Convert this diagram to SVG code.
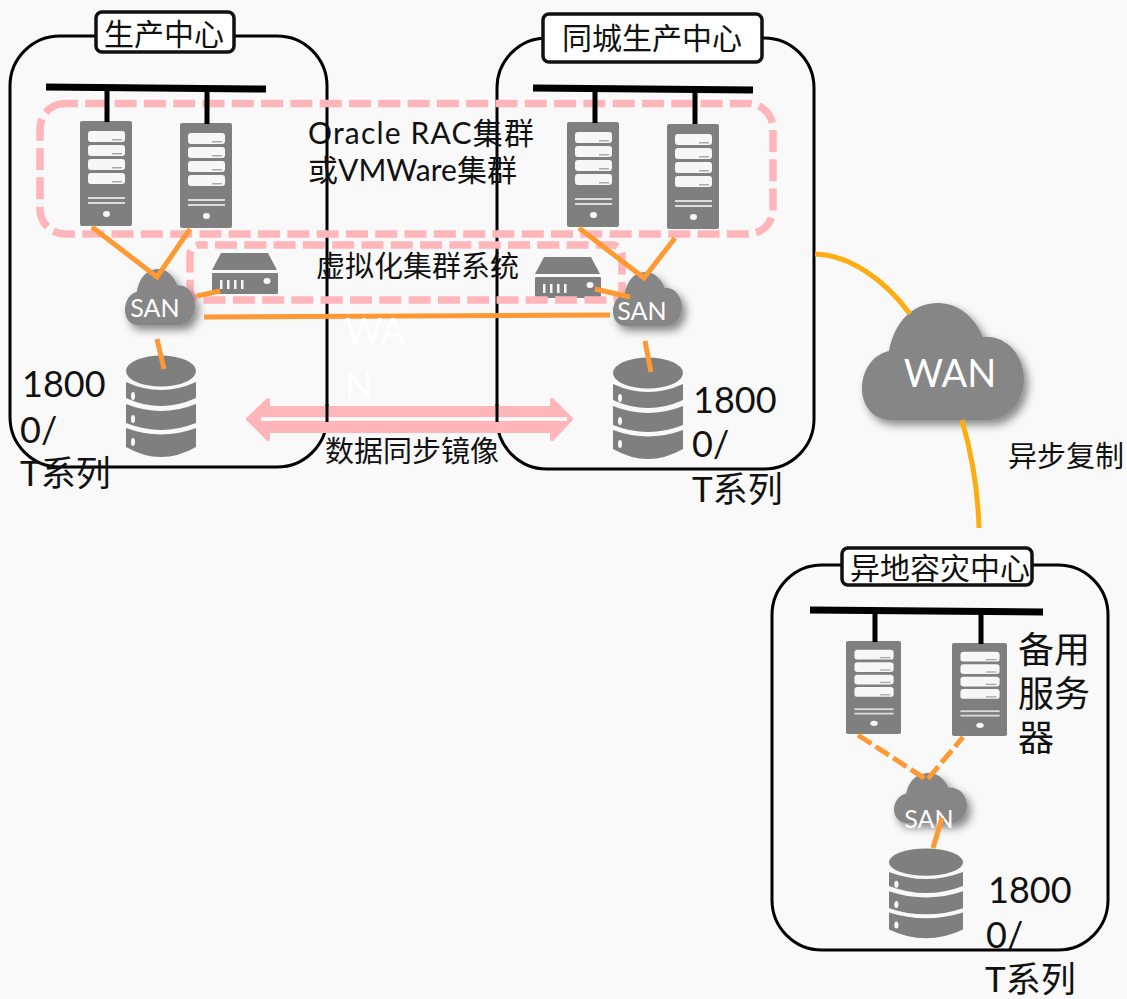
<svg xmlns="http://www.w3.org/2000/svg" width="1127" height="999" viewBox="0 0 1127 999">
<style>
text{font-family:"Lato","Noto Sans CJK SC",sans-serif;fill:#111}
.dc{fill:none;stroke:#000;stroke-width:3}
.tb{fill:#fff;stroke:#111;stroke-width:3.500}
.bus{fill:none;stroke:#000;stroke-width:7}
.drop{fill:none;stroke:#000;stroke-width:5}
.or{fill:none;stroke:#ff9933;stroke-width:5}
.wan{fill:none;stroke:#ffac10;stroke-width:5}
.pk{fill:none;stroke:#ffb6ba;stroke-width:7.500;stroke-dasharray:22 7.300}
.t{font-size:30px}.big{font-size:36px}.ts{font-size:35px}.m{font-size:29px}.r{font-size:30px}
.w{fill:#fff}
.cl{filter:url(#sh)}
</style>
<defs>
<filter id="sh" x="-20%" y="-20%" width="150%" height="150%"><feDropShadow dx="4" dy="5" stdDeviation="4" flood-color="#000" flood-opacity=".45"/></filter>
<symbol id="server" viewBox="0 0 52 105" width="52" height="105" preserveAspectRatio="none" overflow="visible">
<rect width="52" height="105" rx="2" fill="#7f7f7f"/>
<g fill="#f7f7f7"><rect x="8" y="10" width="37" height="11" rx="3"/><rect x="8" y="24" width="37" height="11" rx="3"/><rect x="8" y="38" width="37" height="11" rx="3"/><rect x="8" y="52" width="37" height="11" rx="3"/></g>
<g fill="#aaa"><rect x="32" y="18" width="10" height="1.500"/><rect x="32" y="32" width="10" height="1.500"/><rect x="32" y="46" width="10" height="1.500"/><rect x="32" y="60" width="10" height="1.500"/></g>
<rect x="8" y="76" width="37" height="2" fill="#ddd"/><rect x="8" y="81" width="37" height="2" fill="#ddd"/>
<ellipse cx="26.500" cy="93" rx="3.500" ry="3" fill="#f7f7f7"/>
</symbol>
<symbol id="cloud" viewBox="0 0 162 117" preserveAspectRatio="none" overflow="visible">
<path d="M28 117C12 117 0 103 0 86 0 66 12 51 27 48 32 20 50 0 76 0 96 0 113 14 121 34 144 32 162 52 162 76 162 99 146 117 126 117Z" fill="#868686"/>
</symbol>
<symbol id="db" viewBox="0 0 70 104" width="70" height="104" preserveAspectRatio="none" overflow="visible">
<ellipse cx="35" cy="16" rx="35" ry="15.500" fill="#7f7f7f"/>
<path d="M0 27Q35 43 70 27V43Q35 59 0 43Z" fill="#7f7f7f"/>
<path d="M0 49Q35 63 70 49V68Q35 82 0 68Z" fill="#7f7f7f"/>
<path d="M0 73Q35 86 70 73V92Q35 112 0 92Z" fill="#7f7f7f"/>
<g fill="#f7f7f7"><ellipse cx="7" cy="41" rx="2" ry="4"/><ellipse cx="7" cy="64" rx="2" ry="4"/><ellipse cx="7" cy="87" rx="2" ry="4"/></g>
</symbol>
<symbol id="mini" viewBox="0 0 66 41" width="66" height="41" overflow="visible">
<path d="M0 17 9 0H56L65 17Z" fill="#7f7f7f"/><rect y="20" width="66" height="21" rx="1" fill="#7f7f7f"/>
<g fill="#f7f7f7"><rect x="8" y="27" width="2.500" height="9"/><rect x="15" y="27" width="2.500" height="9"/><rect x="22" y="27" width="2.500" height="9"/><rect x="29" y="27" width="2.500" height="9"/><ellipse cx="55" cy="28" rx="3.500" ry="3"/></g>
</symbol>
</defs>
<rect width="1127" height="999" fill="#f9f9f9"/>

<g id="dc-a">
<rect class="dc" x="10" y="36" width="317" height="431" rx="50"/>
<rect class="tb" x="96" y="12" width="138" height="40" rx="6"/>
<text class="t" x="164" y="45" text-anchor="middle">生产中心</text>
</g>
<g id="dc-b">
<rect class="dc" x="497" y="38" width="317" height="431" rx="50"/>
<rect class="tb" x="543" y="14" width="219" height="48" rx="6"/>
<text class="t" x="652" y="49" text-anchor="middle">同城生产中心</text>
</g>
<g id="dc-c">
<rect class="dc" x="772" y="565" width="336" height="385" rx="50"/>
<rect class="tb" x="842" y="548" width="190" height="37" rx="6"/>
<text class="t" x="940" y="579" text-anchor="middle">异地容灾中心</text>
</g>

<g id="rac-group"><rect class="pk" x="40" y="103.500" width="733" height="130.500" rx="25" stroke-dashoffset="9"/></g>

<g id="srv-a1"><use href="#server" x="80" y="121"/></g>
<g id="srv-a2"><use href="#server" x="180" y="123"/></g>
<g id="srv-b1"><use href="#server" x="567" y="122"/></g>
<g id="srv-b2"><use href="#server" x="667" y="124"/></g>
<g id="srv-c1"><use href="#server" x="846" y="641" width="55" height="93"/></g>
<g id="srv-c2"><use href="#server" x="952" y="643" width="55" height="93"/></g>

<g id="mini-a"><use href="#mini" x="212" y="253"/></g>
<g id="mini-b"><use href="#mini" x="535" y="257"/></g>
<g id="virt-group"><rect class="pk" x="190" y="245" width="432" height="55" rx="10" stroke-dashoffset="14.300"/></g>

<g id="san-a"><use class="cl" href="#cloud" x="125" y="269" width="70" height="56"/><text class="w" x="155" y="317" font-size="25" text-anchor="middle">SAN</text></g>
<g id="san-b"><use class="cl" href="#cloud" x="613" y="272" width="69" height="54"/><text class="w" x="642" y="320" font-size="25" text-anchor="middle">SAN</text></g>
<g id="san-c"><use class="cl" href="#cloud" x="894" y="773" width="73" height="50"/><text class="w" x="929" y="828" font-size="25" text-anchor="middle">SAN</text></g>
<g id="wan"><use class="cl" href="#cloud" x="862" y="303" width="162" height="117"/><text class="w" x="950" y="387" font-size="38" text-anchor="middle">WAN</text></g>

<g id="db-a"><use href="#db" x="126" y="355"/></g>
<g id="db-b"><use href="#db" x="613" y="357"/></g>
<g id="db-c"><use href="#db" x="889" y="848" width="74" height="92"/></g>

<g id="sync">
<path d="M248 419 268 400V408H552V400L571 419 552 439V431H268V439Z" fill="#ffb6ba" stroke="#ffb6ba" stroke-width="4" stroke-linejoin="round"/>
<path d="M261 419H567" stroke="#fff" stroke-width="3.500"/>
<path d="M327 404V422M497 404V422" stroke="#000" stroke-width="3"/>
</g>

<g id="connectors">
<path class="bus" d="M46 87 266 89M533 88 753 90M810 610 1043 612"/>
<path class="drop" d="M107 89V122M207 90V124M595 90V123M695 91V124M875 612V642M981 613V644"/>
<path class="or" d="M92 227 157 277 190 229"/>
<path class="or" d="M579 228 644 278 675 238"/>
<path class="or" d="M197 296 220 291M595 289 630 297"/>
<path class="or" d="M204 317 610 315"/>
<path class="or" d="M157 339 164 369M645 341 651 372"/>
<path class="or" stroke-dasharray="16 5" d="M858 735 927 780 963 737"/>
<path class="or" d="M942 818 933 848"/>
<path class="wan" d="M815 254C850 255 885 280 910 314M962 420C972 455 978 490 979 528"/>
</g>

<g id="labels">
<text class="r" x="308" y="144" textLength="226">Oracle RAC集群</text>
<text class="r" x="308" y="181" textLength="209">或VMWare集群</text>
<text class="m" x="316" y="277">虚拟化集群系统</text>
<text class="m" x="325" y="462">数据同步镜像</text>
<text class="m" x="1008" y="467">异步复制</text>
<text class="w big" x="345" y="344">WA</text>
<text class="w big" x="345" y="398">N</text>
<text class="big" x="22" y="397">1800</text>
<text class="big" x="20" y="443">0/</text>
<text class="ts" x="20" y="486">T系列</text>
<text class="big" x="693" y="413">1800</text>
<text class="big" x="692" y="457">0/</text>
<text class="ts" x="692" y="502">T系列</text>
<text class="big" x="988" y="903">1800</text>
<text class="big" x="986" y="948">0/</text>
<text class="ts" x="985" y="992">T系列</text>
<text class="big" x="1018" y="663">备用</text>
<text class="big" x="1018" y="707">服务</text>
<text class="big" x="1018" y="751">器</text>
</g>
</svg>
